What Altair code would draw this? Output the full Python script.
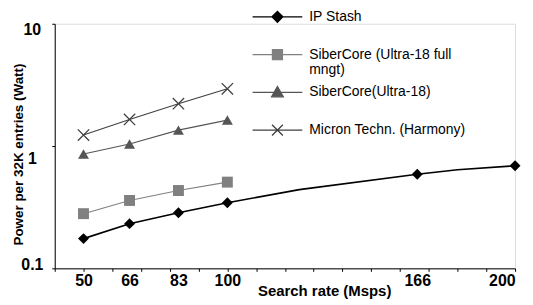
import altair as alt
import pandas as pd

# ---- data ----
series_names = ["IP Stash", "SiberCore (Ultra-18 full mngt)", "SiberCore(Ultra-18)", "Micron Techn. (Harmony)"]
series_colors = ["#000000", "#808080", "#555555", "#404040"]

ip_x = [50, 66, 83, 100, 125, 166, 180, 200]
ip_y = [0.175, 0.232, 0.285, 0.344, 0.44, 0.589, 0.64, 0.69]
ip_marker = [1, 1, 1, 1, 0, 1, 0, 1]

rate_x = [50, 66, 83, 100]
sc_full_y = [0.28, 0.359, 0.433, 0.507]
sc18_y = [0.86, 1.04, 1.35, 1.63]
micron_y = [1.23, 1.65, 2.22, 2.94]

x_tick_values = list(range(40, 201, 10))
x_label_values = [50, 66, 83, 100, 166, 200]
y_values = [0.1, 1, 10]

rows = []
for x, y, m in zip(ip_x, ip_y, ip_marker):
    rows.append({"series": series_names[0], "x": x, "y": y, "marker": m, "order": 0})
for name, ys, o in [(series_names[1], sc_full_y, 1), (series_names[2], sc18_y, 2), (series_names[3], micron_y, 3)]:
    for x, y in zip(rate_x, ys):
        rows.append({"series": name, "x": x, "y": y, "marker": 1, "order": o})
df = pd.DataFrame(rows)

xscale = alt.Scale(domain=[40, 200], nice=False, zero=False)
yscale = alt.Scale(type="log", domain=[0.1, 10], nice=False)
cscale = alt.Scale(domain=series_names, range=series_colors)

FONT = "Liberation Sans"

x_ticks_axis = alt.Axis(values=x_tick_values, labels=False, ticks=True, tickSize=3, grid=False,
                        domainColor="#000", tickColor="#000", title=None, orient="bottom")
x_label_axis = alt.Axis(values=x_label_values, ticks=False, tickSize=0, domain=False, grid=False,
                        labelFont=FONT, labelFontWeight="bold", labelFontSize=16, labelColor="#000",
                        labelPadding=4, orient="bottom",
                        title="Search rate (Msps)", titleFont=FONT, titleFontWeight="bold",
                        titleFontSize=15, titleColor="#000", titleX=271, titleY=22,
                        titleBaseline="middle", titleAlign="center", titleAnchor="start")

y_axis = alt.Axis(values=y_values, grid=False, tickSize=3, tickColor="#000", domainColor="#000",
                  labelExpr="datum.value >= 1 ? format(datum.value, 'd') : format(datum.value, '.1f')",
                  labelFont=FONT, labelFontWeight="bold", labelFontSize=16, labelColor="#000",
                  labelAlign="center", labelPadding=20,
                  labelOffset={"condition": [{"test": "datum.value == 1", "value": 13},
                                             {"test": "datum.value == 10", "value": 6}],
                               "value": -4},
                  title="Power per 32K entries (Watt)", titleFont=FONT, titleFontWeight="bold",
                  titleFontSize=13.5, titleColor="#000", titleX=-29, titleY=131, titleAlign="center")

base = alt.Chart(df)

lines = base.mark_line().encode(
    x=alt.X("x:Q", scale=xscale, axis=x_ticks_axis),
    y=alt.Y("y:Q", scale=yscale, axis=y_axis),
    color=alt.Color("series:N", scale=cscale, legend=None),
    strokeWidth=alt.condition("datum.order == 0", alt.value(1.6), alt.value(1.1)),
    detail="series:N",
    order="x:Q",
)

filled_pts = base.transform_filter("datum.marker == 1 && datum.order < 3").mark_point(
    filled=True, opacity=1, size=121
).encode(
    x=alt.X("x:Q", scale=xscale, axis=x_label_axis),
    y=alt.Y("y:Q", scale=yscale, axis=y_axis),
    color=alt.Color("series:N", scale=cscale, legend=None),
    shape=alt.Shape("series:N", scale=alt.Scale(domain=series_names[:3],
                                                range=["diamond", "square", "triangle-up"]), legend=None),
)

x_pts = base.transform_filter("datum.order == 3").mark_point(
    filled=False, opacity=1, size=130, strokeWidth=1.3, color="#404040",
    shape="M-1,-1L1,1M-1,1L1,-1"
).encode(
    x=alt.X("x:Q", scale=xscale, axis=None),
    y=alt.Y("y:Q", scale=yscale, axis=y_axis),
)

# legend symbols: a line with the marker on it (stroked) + the filled marker (filled)
L = "M-1.786,0L1.786,0"
m_diamond = "M-0.39,0L0,-0.39L0.39,0L0,0.39Z"
m_square = "M-0.357,-0.357L0.357,-0.357L0.357,0.357L-0.357,0.357Z"
m_tri = "M0,-0.42L0.42,0.32L-0.42,0.32Z"
m_x = "M-0.39,-0.39L0.39,0.39M-0.39,0.39L0.39,-0.39"
stroke_paths = [L + m_diamond, L + m_square, L + m_tri, L + m_x]
fill_paths = [m_diamond, m_square, m_tri, m_x]

label_expr = ("datum.label == 'SiberCore (Ultra-18 full mngt)' ? ['SiberCore (Ultra-18 full', 'mngt)'] "
              ": [datum.label, '']")

def make_legend(label_opacity):
    return alt.Legend(
        title=None, orient="none", legendX=209, legendY=-22, padding=0,
        symbolSize=784, symbolStrokeWidth=1.3, symbolOpacity=1,
        labelFont=FONT, labelFontSize=14, labelColor="#000", labelOffset=17, labelLimit=300,
        labelOpacity=label_opacity, rowPadding=-2.5, labelExpr=label_expr,
    )

leg_s = make_legend(1)
leg_f = make_legend(0)

legend_stroke = base.transform_filter("false").mark_point(filled=False).encode(
    x=alt.X("x:Q", scale=xscale, axis=None),
    y=alt.Y("y:Q", scale=yscale, axis=y_axis),
    stroke=alt.Stroke("series:N", scale=alt.Scale(domain=series_names, range=series_colors), legend=leg_s),
    shape=alt.Shape("series:N", scale=alt.Scale(domain=series_names, range=stroke_paths), legend=leg_s),
)

legend_fill = base.transform_filter("false").mark_point(filled=True).encode(
    x=alt.X("x:Q", scale=xscale, axis=None),
    y=alt.Y("y:Q", scale=yscale, axis=y_axis),
    fill=alt.Fill("series:N", scale=alt.Scale(domain=series_names, range=series_colors), legend=leg_f),
    shape=alt.Shape("series:N", scale=alt.Scale(domain=series_names, range=fill_paths), legend=leg_f),
)

chart = alt.layer(lines, filled_pts, x_pts, legend_stroke, legend_fill).resolve_scale(
    shape="independent", stroke="independent", fill="independent"
).resolve_axis(
    x="independent"
).properties(
    width=463, height=246,
    autosize=alt.AutoSizeParams(type="none"),
    padding={"left": 47, "top": 15, "right": 10, "bottom": 34},
).configure_view(stroke=None).configure(background="white")

chart.save("out.html", embed_options={"renderer": "svg", "actions": False})
